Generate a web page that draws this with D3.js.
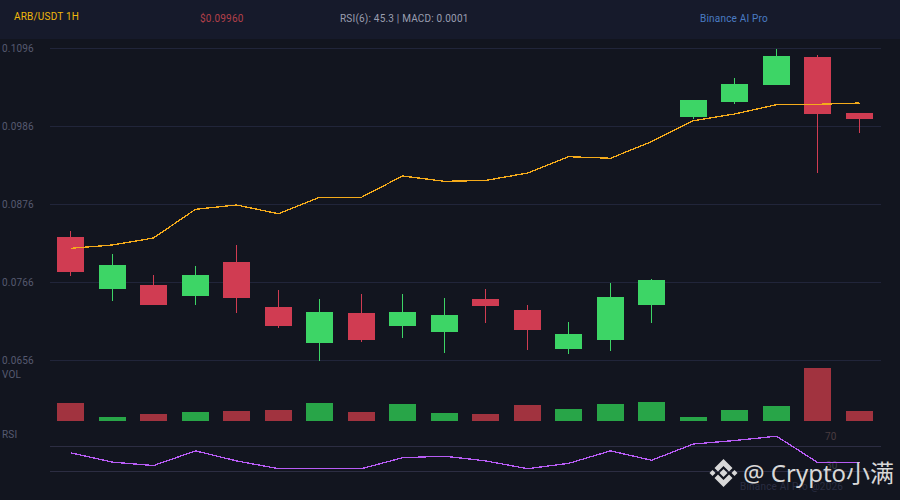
<!DOCTYPE html>
<html>
<head>
<meta charset="utf-8">
<script src="https://cdn.jsdelivr.net/npm/d3@7"></script>
<style>
  html, body { margin: 0; padding: 0; background: #12151f; }
  svg { display: block; font-family: Roboto, sans-serif; }
</style>
</head>
<body>
<svg id="chart"></svg>
<script>
// Candle data
const opens  = [0.08302, 0.07568, 0.07625, 0.07470, 0.07949, 0.07314, 0.06807, 0.07230, 0.07047, 0.06962, 0.07427, 0.07272, 0.06722, 0.06849, 0.07343, 0.09994, 0.10206, 0.10445, 0.10840, 0.10050];
const closes = [0.07808, 0.07907, 0.07343, 0.07766, 0.07441, 0.07047, 0.07244, 0.06849, 0.07244, 0.07202, 0.07329, 0.06990, 0.06934, 0.07456, 0.07695, 0.10234, 0.10459, 0.10854, 0.10036, 0.09966];
const highs  = [0.08386, 0.08062, 0.07766, 0.07893, 0.08189, 0.07554, 0.07427, 0.07498, 0.07498, 0.07441, 0.07568, 0.07343, 0.07103, 0.07653, 0.07709, 0.10234, 0.10544, 0.10960, 0.10868, 0.10050];
const lows   = [0.07752, 0.07399, 0.07343, 0.07343, 0.07230, 0.07018, 0.06553, 0.06821, 0.06877, 0.06666, 0.07089, 0.06708, 0.06652, 0.06694, 0.07089, 0.09966, 0.10177, 0.10445, 0.09204, 0.09768];
const maLine = [0.08142, 0.08189, 0.08288, 0.08692, 0.08753, 0.08630, 0.08862, 0.08862, 0.09162, 0.09087, 0.09099, 0.09204, 0.09434, 0.09412, 0.09646, 0.09942, 0.10036, 0.10168, 0.10173, 0.10191];
const volumes = [18, 4, 7, 9, 10, 11, 18, 9, 17, 8, 7, 16, 12, 17, 19, 4, 11, 15, 53, 10];
const rsiLine = [60, 45, 39.5, 63, 47, 34.5, 34.5, 34.5, 52, 54.5, 47, 34.5, 43, 63, 48, 74, 79.5, 86.5, 44.5, 44.5];

const priceTicks = [0.1096, 0.0986, 0.0876, 0.0766, 0.0656];
const rsiTicks = [70, 30];

const width = 900;
const height = 500;

const svg = d3.select("#chart")
              .attr("width", width)
              .attr("height", height);

// Small helper for the plain labels
function label(px, py, text, color) {
  return svg.append("text")
            .attr("x", px)
            .attr("y", py)
            .attr("font-size", 10)
            .attr("letter-spacing", 0.2)
            .attr("fill", color)
            .text(text);
}

// Header strip
svg.append("rect")
   .attr("width", width)
   .attr("height", 39)
   .attr("fill", "#161a2b");

label(14, 20, "ARB/USDT 1H", "#f0b90b");
label(200, 22, "$0.09960", "#b3404a");
label(340, 22, "RSI(6): 45.3  |  MACD: 0.0001", "#9a9eb0");
label(700, 22, "Binance AI Pro", "#4a7cc4");

// Scales
const x = d3.scalePoint()
            .domain(d3.range(opens.length))
            .range([70, 859]);
const xMid = i => Math.round(x(i));
const barW = 27;

const y = d3.scaleLinear().domain([0.0656, 0.1096]).range([360.5, 48.5]);
const yVol = d3.scaleLinear().domain([0, 53]).range([421, 368]);
const yRsi = d3.scaleLinear().domain([30, 70]).range([471.5, 446.5]);

const up = "#3dd566";
const down = "#d03c52";
const isUp = i => closes[i] >= opens[i];

// Price grid and tick labels
svg.append("g").selectAll("line")
   .data(priceTicks)
   .enter().append("line")
   .attr("x1", 50).attr("x2", 881)
   .attr("y1", d => y(d)).attr("y2", d => y(d))
   .attr("stroke", "#21253a")
   .attr("shape-rendering", "crispEdges");

priceTicks.forEach(d => label(2, y(d) + 3.5, d3.format(".4f")(d), "#565a70"));

// Candles
const candles = svg.append("g").selectAll("g")
   .data(opens)
   .enter().append("g");

candles.append("line")
   .attr("x1", (d, i) => xMid(i) + 0.5).attr("x2", (d, i) => xMid(i) + 0.5)
   .attr("y1", (d, i) => y(highs[i])).attr("y2", (d, i) => y(lows[i]))
   .attr("stroke", (d, i) => isUp(i) ? up : down)
   .attr("shape-rendering", "crispEdges");

candles.append("rect")
   .attr("x", (d, i) => xMid(i) - 13)
   .attr("width", barW)
   .attr("y", (d, i) => y(Math.max(opens[i], closes[i])))
   .attr("height", (d, i) => Math.abs(y(opens[i]) - y(closes[i])))
   .attr("fill", (d, i) => isUp(i) ? up : down)
   .attr("shape-rendering", "crispEdges");

// Moving average
const maPath = d3.line().x((d, i) => xMid(i) + 0.5).y(d => y(d));
svg.append("path")
   .datum(maLine)
   .attr("d", maPath)
   .attr("fill", "none")
   .attr("stroke", "#f5ab1b")
   .attr("stroke-width", 1.3)
   .attr("shape-rendering", "crispEdges");

// Volume
label(2, 378, "VOL", "#565a70");

svg.append("g").selectAll("rect")
   .data(volumes)
   .enter().append("rect")
   .attr("x", (d, i) => xMid(i) - 13)
   .attr("width", barW)
   .attr("y", d => yVol(d))
   .attr("height", d => yVol(0) - yVol(d))
   .attr("fill", (d, i) => isUp(i) ? "#28a548" : "#a1333f")
   .attr("shape-rendering", "crispEdges");

// RSI
label(2, 438, "RSI", "#565a70");

svg.append("g").selectAll("line")
   .data(rsiTicks)
   .enter().append("line")
   .attr("x1", 50).attr("x2", 881)
   .attr("y1", d => yRsi(d)).attr("y2", d => yRsi(d))
   .attr("stroke", "#2c2d42")
   .attr("shape-rendering", "crispEdges");

label(825, yRsi(70) - 6.5, 70, "#4a3c40");
label(826, yRsi(30) - 2.5, 30, "#3a4048");

const rsiPath = d3.line().x((d, i) => xMid(i) + 0.5).y(d => yRsi(d));
svg.append("path")
   .datum(rsiLine)
   .attr("d", rsiPath)
   .attr("fill", "none")
   .attr("stroke", "#b85cf5")
   .attr("stroke-width", 1.3)
   .attr("shape-rendering", "crispEdges");

// Footer note under the watermark
label(740, 490, "Binance AI Pro @2026", "#2a2d42");

// Watermark
const mark = svg.append("g")
                .attr("transform", "translate(723.5,473)")
                .attr("fill", "#d8d8d8");
mark.append("path").attr("d", "M0,-14 L9,-5 L5.5,-1.5 L0,-7 L-5.5,-1.5 L-9,-5 Z");
mark.append("path").attr("d", "M0,14 L9,5 L5.5,1.5 L0,7 L-5.5,1.5 L-9,5 Z");
mark.append("path").attr("d", "M0,-4 L4,0 L0,4 L-4,0 Z");
mark.append("path").attr("d", "M-11,-3 L-8,0 L-11,3 L-14,0 Z");
mark.append("path").attr("d", "M11,-3 L14,0 L11,3 L8,0 Z");

svg.append("text")
   .attr("x", 743).attr("y", 482)
   .attr("font-family", "'Noto Sans', 'Noto Sans CJK SC', sans-serif")
   .attr("font-size", 24)
   .attr("fill", "#d8d8d8")
   .text("@ Crypto小满");
</script>
</body>
</html>
